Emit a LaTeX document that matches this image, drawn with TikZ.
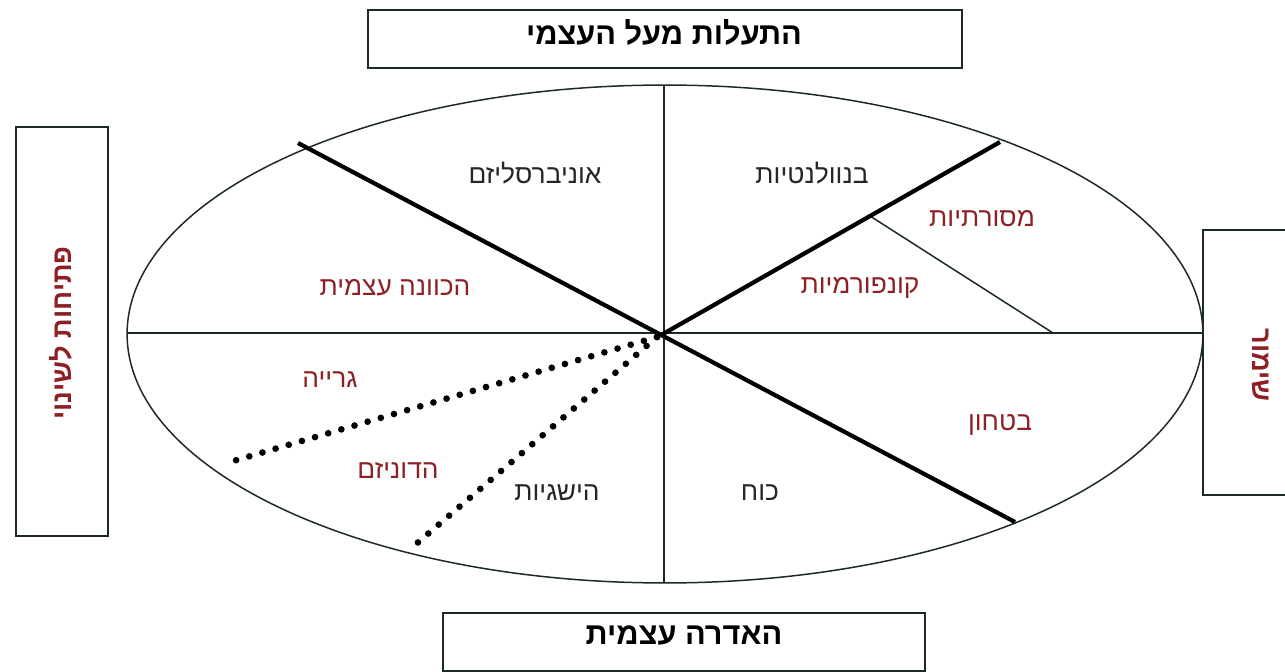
\documentclass[tikz,border=0pt]{standalone}
\usepackage{fontspec}
\setmainfont{Liberation Sans}
\newfontfamily\hebfont[Script=Hebrew]{Liberation Sans}
\TeXXeTstate=1
\definecolor{valred}{RGB}{140,32,36}
\definecolor{boxline}{RGB}{28,42,38}
\newcommand{\heb}[1]{\hebfont\beginR #1\endR}

\begin{document}
\begin{tikzpicture}[x=0.02cm, y=-0.02cm,
  every node/.style={font=\hebfont\fontsize{15}{17}\selectfont, inner sep=1pt},
  axisbox/.style={draw=boxline, line width=1.1pt},
  boxlabel/.style={font=\hebfont\bfseries\fontsize{17.5}{19}\selectfont, text=black},
  sidelabel/.style={font=\hebfont\bfseries\fontsize{15.5}{17}\selectfont, text=valred},
  darkval/.style={text=black!85},
  redval/.style={text=valred},
  thinline/.style={draw=boxline, line width=0.85pt},
  thickline/.style={draw=black, line width=2.4pt},
  dotline/.style={draw=black, line width=3.8pt, line cap=round, dash pattern=on 0pt off 7.8pt}]
\useasboundingbox (0,0) rectangle (1285,672);

% axis boxes
\draw[axisbox] (368,10) rectangle (962,68);
\draw[axisbox] (443,613) rectangle (925,671);
\draw[axisbox] (16,127) rectangle (108,536);
\draw[axisbox] (1203,230) rectangle (1300,495);
\node[boxlabel] (topl) at (664,32) {\heb{התעלות מעל העצמי}};
\node[boxlabel] (botl) at (684,635) {\heb{האדרה עצמית}};
\node[sidelabel, rotate=90] (leftl) at (61,333) {\heb{פתיחות לשינוי}};
\node[sidelabel, rotate=-90] (rightl) at (1261,365) {\heb{שימור}};

% circle of values
\coordinate (o) at (663,334);
\coordinate (elTop) at (664,85);
\coordinate (elBot) at (664,583);
\coordinate (elL) at (127,333);
\coordinate (elR) at (1203,333);
\coordinate (ulEnd) at (298,143);
\coordinate (lrEnd) at (1015,522);
\coordinate (urEnd) at (1000,142);
\coordinate (splitA) at (870,216);
\coordinate (splitB) at (1053,333);
\coordinate (dotO) at (657,337);
\coordinate (dotA) at (230,462);
\coordinate (dotB) at (408,551);

\draw[thinline] (665,334) ellipse [x radius=10.76cm, y radius=4.98cm];
\draw[thinline] (elTop) -- (elBot);
\draw[thinline] (elL) -- (elR);
\draw[thinline] (splitA) -- (splitB);
\draw[thickline] (ulEnd) -- (lrEnd);
\draw[thickline] (o) -- (urEnd);
\draw[dotline] (dotO) -- (dotA);
\draw[dotline] (dotO) -- (dotB);

% values
\node[darkval] (univ) at (535,173) {\heb{אוניברסליזם}};
\node[darkval] (benev) at (812,173) {\heb{בנוולנטיות}};
\node[redval] (trad) at (982,219) {\heb{מסורתיות}};
\node[redval] (conf) at (860,288) {\heb{קונפורמיות}};
\node[redval] (selfdir) at (395,288) {\heb{הכוונה עצמית}};
\node[redval] (stim) at (330,380) {\heb{גרייה}};
\node[redval] (hedon) at (398,470) {\heb{הדוניזם}};
\node[darkval] (achiev) at (557,493) {\heb{הישגיות}};
\node[darkval] (power) at (760,493) {\heb{כוח}};
\node[redval] (secur) at (1000,425) {\heb{בטחון}};
\end{tikzpicture}
\end{document}
